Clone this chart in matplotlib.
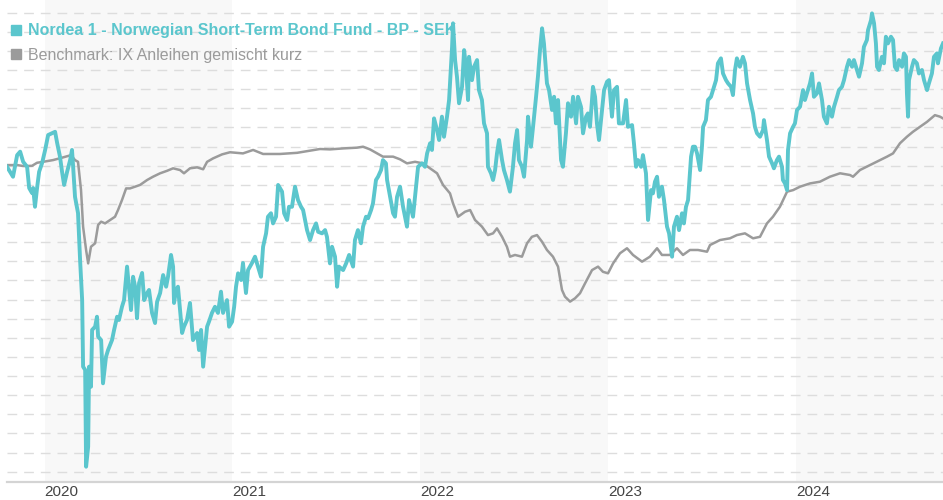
import matplotlib.pyplot as plt
from matplotlib.lines import Line2D
import numpy as np

# fund and benchmark (index, start ~ 100), time in decimal years
fund_t = [
    2019.800, 2019.832, 2019.854, 2019.870, 2019.886, 2019.907, 2019.918, 2019.933, 2019.939, 2019.949,
    2019.960, 2019.971, 2019.987, 2020.003, 2020.019, 2020.040, 2020.056, 2020.067, 2020.082, 2020.093,
    2020.104, 2020.120, 2020.136, 2020.146, 2020.152, 2020.162, 2020.178, 2020.189, 2020.200, 2020.205,
    2020.216, 2020.221, 2020.232, 2020.237, 2020.247, 2020.253, 2020.269, 2020.279, 2020.285, 2020.301,
    2020.311, 2020.327, 2020.338, 2020.359, 2020.370, 2020.386, 2020.396, 2020.412, 2020.423, 2020.439,
    2020.444, 2020.460, 2020.471, 2020.482, 2020.492, 2020.503, 2020.519, 2020.530, 2020.546, 2020.556,
    2020.572, 2020.588, 2020.599, 2020.615, 2020.631, 2020.647, 2020.657, 2020.673, 2020.684, 2020.689,
    2020.700, 2020.710, 2020.732, 2020.742, 2020.758, 2020.774, 2020.790, 2020.812, 2020.822, 2020.833,
    2020.844, 2020.865, 2020.875, 2020.891, 2020.907, 2020.923, 2020.939, 2020.950, 2020.971, 2020.982,
    2020.998, 2021.009, 2021.019, 2021.030, 2021.046, 2021.056, 2021.072, 2021.083, 2021.104, 2021.120,
    2021.136, 2021.152, 2021.163, 2021.179, 2021.189, 2021.205, 2021.216, 2021.232, 2021.243, 2021.264,
    2021.275, 2021.291, 2021.301, 2021.317, 2021.333, 2021.349, 2021.365, 2021.376, 2021.397, 2021.413,
    2021.429, 2021.445, 2021.456, 2021.477, 2021.493, 2021.503, 2021.519, 2021.530, 2021.546, 2021.557,
    2021.567, 2021.589, 2021.605, 2021.621, 2021.642, 2021.652, 2021.668, 2021.684, 2021.695, 2021.711,
    2021.722, 2021.738, 2021.748, 2021.764, 2021.775, 2021.791, 2021.801, 2021.817, 2021.823, 2021.839,
    2021.855, 2021.865, 2021.876,
    2021.892, 2021.908, 2021.929, 2021.940, 2021.961, 2021.977, 2021.988, 2022.009, 2022.025, 2022.036,
    2022.052, 2022.062, 2022.073, 2022.089, 2022.100, 2022.115, 2022.126, 2022.142, 2022.153, 2022.169,
    2022.174, 2022.185, 2022.195, 2022.206, 2022.222, 2022.233, 2022.243, 2022.254, 2022.259, 2022.275,
    2022.286, 2022.302, 2022.312, 2022.328, 2022.339, 2022.355, 2022.360, 2022.376, 2022.387, 2022.398,
    2022.408, 2022.419, 2022.435, 2022.445, 2022.461, 2022.477, 2022.493, 2022.504, 2022.515, 2022.525,
    2022.541, 2022.552, 2022.568, 2022.573, 2022.589, 2022.600, 2022.616, 2022.626, 2022.637, 2022.648,
    2022.658, 2022.674, 2022.685, 2022.701, 2022.712, 2022.722, 2022.733, 2022.749, 2022.759, 2022.775,
    2022.786, 2022.802, 2022.813, 2022.829, 2022.839, 2022.855, 2022.866, 2022.882, 2022.892, 2022.903,
    2022.919, 2022.930, 2022.940, 2022.951, 2022.967, 2022.978, 2022.994, 2023.004, 2023.020, 2023.031,
    2023.047, 2023.057,
    2023.079, 2023.095, 2023.105, 2023.127, 2023.137, 2023.148, 2023.159, 2023.175, 2023.185, 2023.201,
    2023.212, 2023.228, 2023.238, 2023.249, 2023.260, 2023.270, 2023.286, 2023.297, 2023.313, 2023.324,
    2023.340, 2023.350, 2023.366, 2023.377, 2023.393, 2023.403, 2023.414, 2023.425, 2023.441, 2023.451,
    2023.462, 2023.473, 2023.489, 2023.499, 2023.505, 2023.520, 2023.531, 2023.547, 2023.558, 2023.574,
    2023.584, 2023.600, 2023.611, 2023.627, 2023.638, 2023.654, 2023.664, 2023.675, 2023.685, 2023.701,
    2023.717, 2023.728, 2023.739, 2023.755, 2023.771, 2023.781, 2023.792, 2023.808, 2023.824, 2023.829,
    2023.845, 2023.856, 2023.872, 2023.882, 2023.898, 2023.909, 2023.925, 2023.930, 2023.941, 2023.952,
    2023.957, 2023.968, 2023.984, 2023.994, 2024.005, 2024.021, 2024.037, 2024.047, 2024.058, 2024.074,
    2024.085, 2024.095, 2024.111, 2024.122, 2024.138, 2024.148, 2024.164, 2024.175, 2024.191, 2024.202,
    2024.218, 2024.228, 2024.244, 2024.255, 2024.271, 2024.282, 2024.298, 2024.308, 2024.324, 2024.335,
    2024.351, 2024.361, 2024.377, 2024.383, 2024.399, 2024.404, 2024.415, 2024.425, 2024.431, 2024.441,
    2024.457, 2024.468, 2024.478, 2024.489, 2024.505, 2024.516, 2024.526, 2024.537, 2024.548, 2024.564,
    2024.574, 2024.585, 2024.590, 2024.596, 2024.601, 2024.617, 2024.627, 2024.643, 2024.654, 2024.670,
    2024.681, 2024.697, 2024.707, 2024.723, 2024.734, 2024.750, 2024.755, 2024.771, 2024.782,
]
fund_v = [
    99.94, 99.42, 100.55, 100.73, 100.20, 99.94, 98.83, 98.57, 98.83, 97.85,
    98.83, 99.68, 100.14, 100.82, 101.60, 101.70, 101.77, 101.18, 100.47, 99.68,
    98.99, 99.68, 100.29, 100.82, 99.94, 98.37, 97.52, 95.07, 92.97, 89.49,
    89.32, 84.26, 85.31, 89.49, 88.44, 91.41, 91.58, 92.10, 91.06, 90.88,
    88.62, 90.01, 90.36, 90.88, 91.41, 92.10, 91.93, 92.62, 92.97, 94.72,
    94.19, 92.45, 94.19, 93.67, 92.02, 93.86, 94.39, 92.97, 93.34, 93.50,
    92.30, 91.77, 92.89, 93.34, 94.28, 93.67, 94.19, 95.33, 94.72, 92.82,
    93.50, 93.67, 91.25, 91.58, 91.93, 92.82, 90.88, 91.25, 90.36, 91.41,
    89.49, 91.58, 91.84, 92.30, 92.62, 92.30, 93.41, 92.30, 92.97, 91.58,
    91.84, 92.62, 93.67, 94.37, 94.02, 94.91, 93.34, 94.54, 94.91, 95.24,
    94.72, 94.19, 95.76, 96.46, 97.33, 97.51, 96.98, 97.33, 98.99, 98.64,
    97.51, 97.16, 97.85, 97.85, 98.90, 98.20, 97.85, 97.68, 96.63, 96.11,
    96.63, 96.98, 96.54, 96.46, 96.63, 96.28, 94.89, 95.76, 95.24, 93.67,
    94.72, 94.54, 94.89, 95.33, 94.72, 96.11, 96.63, 95.94, 96.81, 97.33,
    97.25, 97.68, 98.03, 99.25, 99.42, 99.77, 100.29, 100.12, 99.25, 98.37,
    97.51, 97.33, 98.37,
    98.90, 97.85, 96.81, 98.20, 97.33, 98.90, 99.94, 100.12, 99.94, 100.64,
    101.17, 100.82, 102.47, 101.86, 101.34, 102.56, 101.51, 102.56, 103.43, 106.21,
    107.44, 105.52, 104.65, 103.26, 104.12, 106.04, 105.17, 103.43, 105.69, 104.47,
    105.17, 105.52, 103.95, 103.43, 102.21, 101.69, 99.94, 99.60, 99.25, 99.77,
    100.64, 101.34, 100.29, 99.77, 99.25, 98.64, 99.94, 101.17, 101.86, 100.29,
    99.94, 99.42, 101.34, 102.56, 100.99, 102.03, 103.60, 104.65, 106.04, 107.18,
    106.39, 104.30, 103.95, 102.91, 103.60, 102.21, 103.43, 100.29, 99.94, 101.69,
    103.26, 102.56, 103.60, 102.21, 103.60, 103.08, 101.69, 102.56, 102.73, 102.03,
    104.12, 103.60, 102.21, 101.34, 102.91, 103.95, 104.39, 104.47, 102.56, 103.95,
    104.12, 102.21,
    102.21, 103.43, 102.03, 102.12, 101.17, 99.94, 100.29, 99.94, 100.55, 99.60,
    97.16, 98.72, 98.55, 99.16, 99.42, 98.37, 98.90, 98.20, 96.81, 96.46,
    95.24, 96.81, 97.33, 96.63, 97.51, 96.98, 97.85, 98.20, 100.47, 100.99,
    100.99, 100.64, 99.77, 100.99, 102.03, 102.38, 103.43, 103.60, 103.95, 104.47,
    105.35, 105.61, 104.82, 104.47, 104.30, 104.12, 103.69, 105.00, 105.61, 105.17,
    105.69, 105.35, 104.30, 103.43, 102.73, 102.03, 101.69, 101.51, 101.86, 102.38,
    101.34, 100.47, 100.12, 99.86, 100.29, 100.47, 99.94, 99.25, 99.07, 98.72,
    100.82, 101.69, 102.03, 102.21, 102.91, 103.08, 103.95, 103.43, 103.78, 104.30,
    104.82, 103.60, 103.78, 104.30, 103.43, 102.56, 102.21, 103.08, 102.56, 103.08,
    103.60, 103.95, 104.12, 104.47, 105.17, 105.52, 105.17, 105.52, 105.00, 104.65,
    105.35, 106.21, 106.57, 107.09, 107.61, 107.96, 107.44, 106.39, 105.17, 105.00,
    105.69, 105.35, 106.74, 106.39, 106.74, 106.57, 105.17, 105.00, 105.52, 105.17,
    105.87, 105.69, 103.78, 102.56, 104.47, 105.17, 105.52, 105.35, 104.82, 105.00,
    104.47, 103.95, 104.30, 104.82, 105.69, 105.87, 105.35, 106.13, 106.39,
]

bench_t = [
    2019.800, 2019.854, 2019.886, 2019.933, 2019.960, 2019.992, 2020.045, 2020.098, 2020.141, 2020.162,
    2020.178, 2020.194, 2020.205, 2020.221, 2020.232, 2020.247, 2020.269, 2020.285, 2020.301, 2020.322,
    2020.349, 2020.375, 2020.391, 2020.412, 2020.434, 2020.455, 2020.482, 2020.508, 2020.546, 2020.577,
    2020.615, 2020.652, 2020.684, 2020.721, 2020.742, 2020.774, 2020.812, 2020.844, 2020.865, 2020.897,
    2020.945, 2020.987, 2021.056, 2021.110, 2021.163, 2021.253, 2021.344, 2021.413, 2021.466, 2021.519,
    2021.589, 2021.663, 2021.695, 2021.732, 2021.770, 2021.801, 2021.855, 2021.892, 2021.929, 2021.972,
    2022.014, 2022.052, 2022.089, 2022.121, 2022.158, 2022.174, 2022.201, 2022.238, 2022.265, 2022.291,
    2022.328, 2022.360, 2022.387, 2022.408, 2022.435, 2022.461, 2022.477, 2022.504, 2022.541, 2022.568,
    2022.594, 2022.621, 2022.648, 2022.674, 2022.706, 2022.733, 2022.754, 2022.770, 2022.797, 2022.823,
    2022.850, 2022.877, 2022.914, 2022.946, 2022.972, 2022.999, 2023.026, 2023.063, 2023.100, 2023.132,
    2023.180, 2023.222, 2023.260, 2023.286, 2023.329, 2023.366, 2023.398, 2023.435, 2023.478, 2023.526,
    2023.542, 2023.595, 2023.648, 2023.685, 2023.728, 2023.771, 2023.808, 2023.845, 2023.877, 2023.914,
    2023.952, 2023.984, 2024.021, 2024.074, 2024.127, 2024.180, 2024.234, 2024.287, 2024.303, 2024.340,
    2024.393, 2024.447, 2024.484, 2024.516, 2024.553, 2024.590, 2024.622, 2024.659, 2024.697, 2024.739,
    2024.766, 2024.782,
]
bench_v = [
    100.03, 100.03, 99.98, 99.99, 100.15, 100.20, 100.29, 100.43, 100.55, 100.29,
    100.20, 98.72, 96.81, 95.59, 94.89, 95.76, 95.94, 96.90, 97.07, 96.98,
    97.16, 97.33, 97.68, 98.20, 98.81, 98.81, 98.90, 98.99, 99.25, 99.42,
    99.60, 99.73, 99.86, 99.77, 99.60, 99.86, 99.91, 99.81, 100.20, 100.38,
    100.59, 100.70, 100.64, 100.82, 100.61, 100.61, 100.67, 100.78, 100.87, 100.85,
    100.90, 100.94, 100.99, 100.85, 100.64, 100.47, 100.47, 100.33, 100.12, 100.20,
    100.12, 99.86, 99.60, 98.99, 98.55, 98.03, 97.33, 97.59, 97.68, 97.16,
    96.81, 96.37, 96.46, 96.72, 96.28, 95.76, 95.24, 95.33, 95.24, 95.94,
    96.28, 96.37, 96.02, 95.59, 95.24, 94.72, 93.50, 93.15, 92.89, 93.06,
    93.33, 93.85, 94.54, 94.72, 94.45, 94.37, 94.89, 95.42, 95.68, 95.33,
    94.98, 95.24, 95.68, 95.33, 95.33, 95.68, 95.33, 95.59, 95.59, 95.50,
    95.85, 96.11, 96.20, 96.37, 96.46, 96.20, 96.28, 96.98, 97.33, 97.85,
    98.64, 98.72, 98.90, 99.07, 99.16, 99.42, 99.60, 99.51, 99.42, 99.77,
    100.03, 100.29, 100.47, 100.64, 101.17, 101.51, 101.77, 102.03, 102.29, 102.64,
    102.56, 102.47,
]

years = [2020, 2021, 2022, 2023, 2024]
shaded_years = [2020, 2022, 2024]
fund_label = 'Nordea 1 - Norwegian Short-Term Bond Fund - BP - SEK'
bench_label = 'Benchmark: IX Anleihen gemischt kurz'

teal = '#5bc6cd'
grey = '#9b9b9b'

plt.rcParams['font.family'] = ['Liberation Sans', 'DejaVu Sans']

fig = plt.figure(figsize=(9.43, 5.0), dpi=100)
ax = fig.add_axes([7 / 943, 18 / 500, 936 / 943, 482 / 500])

# alternating year bands
for y in shaded_years:
    ax.axvspan(y, y + 1, color='#f8f8f8', lw=0, zorder=0)

ax.plot(bench_t, bench_v, color=grey, lw=1.8, solid_joinstyle='round', zorder=3)
ax.plot(fund_t, fund_v, color=teal, lw=2.8, solid_joinstyle='round', zorder=4)

ax.set_xlim(2019.800, 2024.782)
ax.set_ylim(83.46, 108.66)

# dashed horizontal grid, no y labels
ax.set_yticks(np.arange(84, 109, 1))
ax.yaxis.grid(True, linestyle=(0, (7, 5)), color='#dddddd', lw=1.0)
ax.set_axisbelow(True)
ax.tick_params(axis='y', length=0, labelleft=False)

ax.set_xticks(years)
ax.set_xticklabels([str(y) for y in years])
ax.tick_params(axis='x', length=0, pad=2, labelsize=11, labelcolor='#444444')
for lbl in ax.get_xticklabels():
    lbl.set_horizontalalignment('left')

for side in ['top', 'left', 'right']:
    ax.spines[side].set_visible(False)
ax.spines['bottom'].set_color('#d4d4d4')
ax.spines['bottom'].set_linewidth(1.6)

handles = [Line2D([], [], marker='s', ls='none', color=teal, ms=6.5),
           Line2D([], [], marker='s', ls='none', color=grey, ms=6.5)]
leg = ax.legend(handles, [fund_label, bench_label], loc='upper left',
                bbox_to_anchor=(0.005, 0.952), frameon=False, fontsize=11.5,
                handlelength=0.6, handletextpad=0.45, labelspacing=0.6,
                borderaxespad=0.0, borderpad=0.0)
texts = leg.get_texts()
texts[0].set_color(teal)
texts[0].set_fontweight('bold')
texts[1].set_color(grey)
leg.set_zorder(5)

fig.savefig('out.png', dpi=100)
